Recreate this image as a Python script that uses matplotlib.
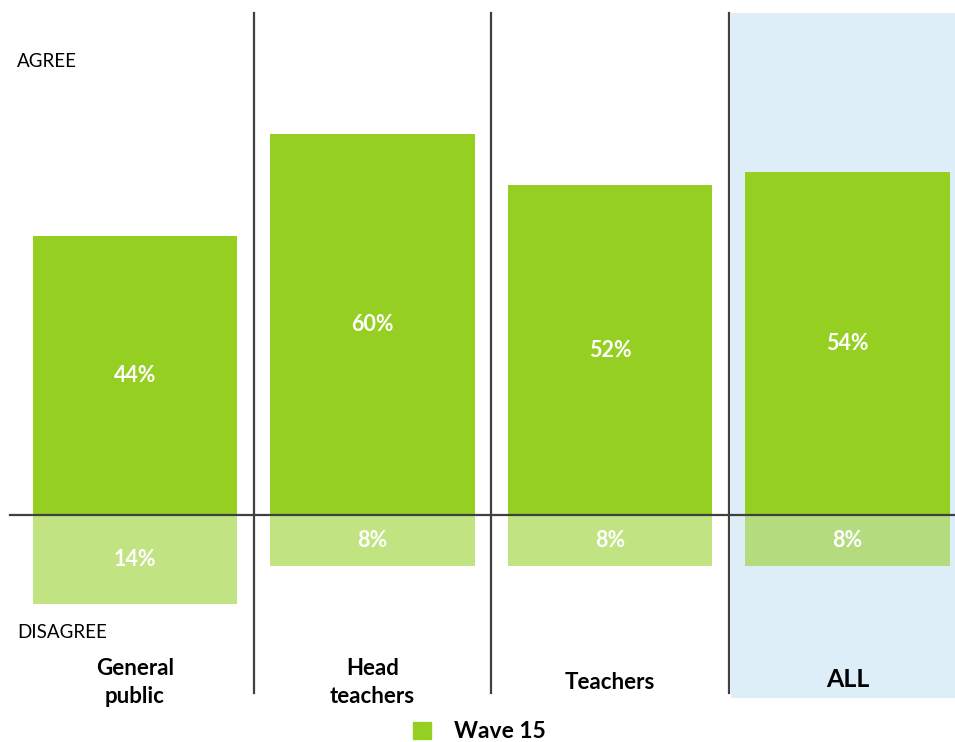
import matplotlib
matplotlib.use("Agg")
import matplotlib.pyplot as plt
from matplotlib.patches import Patch, Rectangle

plt.rcParams['font.family'] = ['Lato', 'DejaVu Sans']

# data
groups = ['General\npublic', 'Head\nteachers', 'Teachers', 'ALL']
agree = [44, 60, 52, 54]
disagree = [14, 8, 8, 8]
series_name = 'Wave 15'

green = '#95cf22'
line_col = '#404040'

fig = plt.figure(figsize=(9.55, 7.42), dpi=100)
ax = fig.add_axes([0, 0, 1, 1])
ax.set_xlim(-0.568, 3.453)
ax.set_ylim(-35.8, 81.2)
ax.axis('off')

x = list(range(len(groups)))

# highlight the ALL column
ax.add_patch(Rectangle((2.51, -28.9), 1.0, 108.1, facecolor='#ddeef9',
                       edgecolor='none', zorder=0))

ax.bar(x, agree, width=0.86, color=green, zorder=2)
ax.bar(x, [-d for d in disagree], width=0.86, color=green, alpha=0.57,
       linewidth=0, zorder=2)

# divider lines
for xv in [0.5, 1.5, 2.5]:
    ax.plot([xv, xv], [-28.1, 79.2], color=line_col, lw=1.6, zorder=3)
ax.plot([-0.526, 3.453], [0, 0], color=line_col, lw=1.6, zorder=3)

for i in x:
    ax.text(i, agree[i] / 2, f'{agree[i]}%', ha='center', va='center',
            color='white', fontsize=15.5, fontweight='bold', zorder=4)
    ax.text(i, -disagree[i] / 2, f'{disagree[i]}%', ha='center', va='center',
            color='white', fontsize=15.5, fontweight='bold', zorder=4)
    if groups[i] == 'ALL':
        ax.text(i, -25.9, groups[i], ha='center', va='center',
                fontsize=18, fontweight='bold')
    else:
        ax.text(i, -26.4, groups[i], ha='center', va='center',
                fontsize=16, fontweight='bold', linespacing=1.4)

ax.text(-0.497, 71.5, 'AGREE', ha='left', va='center', fontsize=13.5)
ax.text(-0.497, -18.5, 'DISAGREE', ha='left', va='center', fontsize=13.5)

fig.legend(handles=[Patch(color=green, label=series_name)],
           loc='center', bbox_to_anchor=(0.502, 0.014), frameon=False,
           handlelength=0.75, handleheight=0.75, handletextpad=1.0,
           prop={'size': 16.5, 'weight': 'bold'})

fig.savefig('out.png', dpi=100)
